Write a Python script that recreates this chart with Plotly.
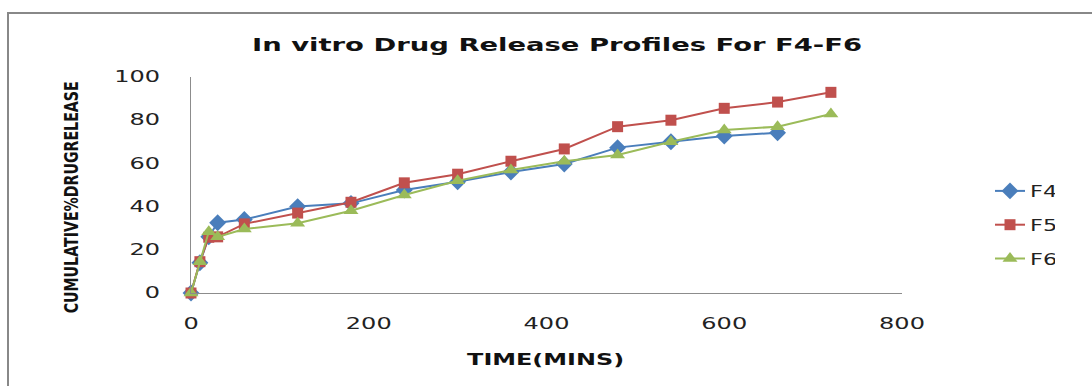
import plotly.graph_objects as go

# Sampling times (minutes) and cumulative % drug release for each formulation
time_min = [0, 10, 20, 30, 60, 120, 180, 240, 300, 360, 420, 480, 540, 600, 660, 720]
f4 = [0, 14, 26, 32.5, 34, 40, 41.5, 47.7, 51.5, 56, 59.7, 67.3, 70, 72.7, 74.2, None]
f5 = [0, 14.5, 25.8, 26, 32, 37, 42, 51, 55, 61, 66.7, 77, 80, 85.5, 88.4, 92.9]
f6 = [0, 14.5, 28.4, 26, 29.6, 32.3, 38.1, 45.4, 52, 56.9, 61, 63.9, 70, 75.5, 77, 82.9]

x_ticks = [0, 200, 400, 600, 800]
y_ticks = [0, 20, 40, 60, 80, 100]

W, H = 1092, 386
L, R, T, B = 191, 190, 77, 93
pw, ph = W - L - R, H - T - B


def px_x(p):
    return (p - L) / pw


def px_y(p):
    return (H - B - p) / ph


fig = go.Figure()

series = [
    ("F4", f4, "#4A7EBB", "diamond", 13),
    ("F5", f5, "#C0504D", "square", 11),
    ("F6", f6, "#9BBB59", "triangle-up", 13),
]
for name, vals, color, sym, size in series:
    fig.add_trace(go.Scatter(
        x=time_min, y=vals, name=name, mode="lines+markers",
        line=dict(color=color, width=2),
        marker=dict(symbol=sym, size=size, color=color),
        cliponaxis=False, legendgroup=name,
    ))

axis_font = dict(family="DejaVu Sans", size=15, color="#222")
fig.update_layout(
    width=W, height=H,
    margin=dict(l=L, r=R, t=T, b=B),
    paper_bgcolor="white", plot_bgcolor="white",
    showlegend=True,
    title=dict(
        text="<b>In vitro Drug Release Profiles For F4-F6</b>",
        x=557 / W, xref="container", xanchor="center",
        y=1 - 45 / H, yref="container", yanchor="middle",
        font=dict(family="DejaVu Sans", size=18, color="#111"),
    ),
    xaxis=dict(
        range=[0, 800], tickvals=x_ticks, showgrid=False, zeroline=False,
        showline=True, linecolor="#8c8c8c", linewidth=1,
        ticks="outside", ticklen=17, tickcolor="rgba(0,0,0,0)",
        tickfont=axis_font,
    ),
    yaxis=dict(
        range=[0, 100], tickvals=y_ticks, showgrid=False, zeroline=False,
        showline=True, linecolor="#8c8c8c", linewidth=1,
        ticks="outside", ticklen=27, tickcolor="rgba(0,0,0,0)",
        tickfont=axis_font,
    ),
    legend=dict(
        x=px_x(990), xanchor="left", y=px_y(225), yanchor="middle",
        font=dict(family="DejaVu Sans", size=16, color="#222"),
        tracegroupgap=10, bgcolor="rgba(0,0,0,0)",
    ),
    annotations=[
        dict(text="<b>TIME(MINS)</b>", xref="paper", yref="paper",
             x=px_x(545), y=px_y(359), showarrow=False,
             xanchor="center", yanchor="middle",
             font=dict(family="DejaVu Sans", size=16, color="#111")),
        dict(text="<b>CUMULATIVE%DRUGRELEASE</b>", xref="paper", yref="paper",
             x=px_x(71), y=px_y(198), showarrow=False, textangle=-90,
             xanchor="center", yanchor="middle",
             font=dict(family="DejaVu Sans", size=19, color="#111")),
    ],
    shapes=[
        # outer chart frame
        dict(type="rect", xref="paper", yref="paper",
             x0=px_x(8), x1=px_x(1100), y0=px_y(395), y1=px_y(13),
             line=dict(color="#888888", width=2), fillcolor="rgba(0,0,0,0)",
             layer="below"),
    ],
)

# Wide-set lettering for the chart texts: stretch or squeeze each text run
# along its baseline (factor relative to its natural width, or a fixed length).
stretch_js = """
function stretchTexts() {
  var rules = [
    ['.gtitle', {len: 610}],
    ['.xtick text', {k: 1.6}],
    ['.ytick text', {k: 1.6}],
    ['.legendtext', {k: 1.4}],
  ];
  rules.forEach(function (r) {
    document.querySelectorAll(r[0]).forEach(function (el) {
      el.removeAttribute('textLength');
      var n = el.getComputedTextLength();
      var target = r[1].len ? r[1].len : n * r[1].k;
      el.setAttribute('textLength', target);
      el.setAttribute('lengthAdjust', 'spacingAndGlyphs');
    });
  });
  var ann = document.querySelectorAll('.annotation-text');
  var lens = [157, 232];
  ann.forEach(function (el, i) {
    if (i < lens.length) {
      el.setAttribute('textLength', lens[i]);
      el.setAttribute('lengthAdjust', 'spacingAndGlyphs');
    }
  });
}
stretchTexts();
"""

fig.write_html("out.html", post_script=stretch_js)
